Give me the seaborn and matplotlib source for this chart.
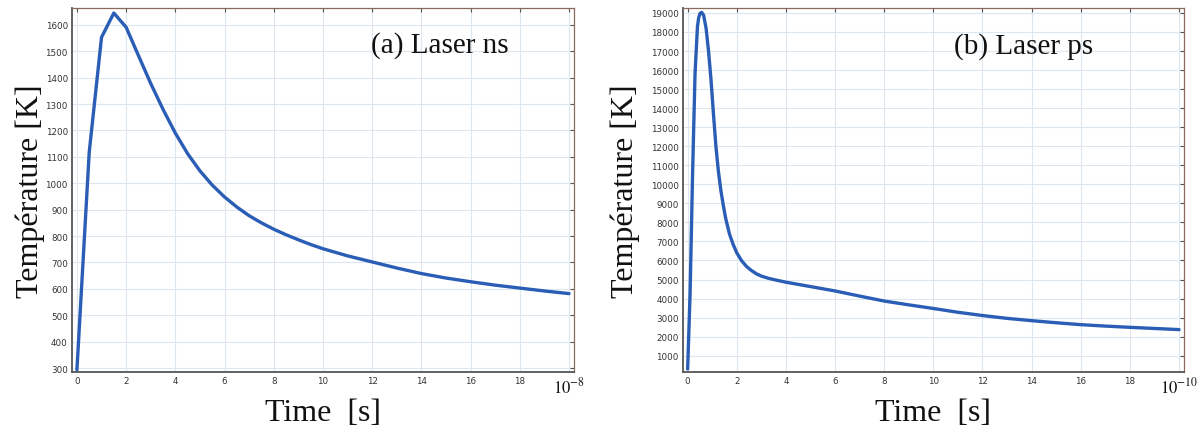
import numpy as np
import pandas as pd
import matplotlib
matplotlib.use("Agg")
from matplotlib import pyplot as plt
import seaborn as sns

# (a) nanosecond laser, time in units of 1e-8 s
time_ns = [0, 0.5, 1, 1.5, 2, 2.5, 3, 3.5, 4, 4.5, 5, 5.5, 6, 6.5, 7, 7.5, 8, 8.5, 9, 9.5, 10,
           11, 12, 13, 14, 15, 16, 17, 18, 19, 20]
temp_ns = [293, 1118, 1553, 1645, 1591, 1484, 1378, 1280, 1190, 1112, 1047, 993, 948, 910, 877, 850, 826, 805, 786, 768, 752,
           725, 702, 679, 658, 641, 627, 614, 603, 592, 582]

# (b) picosecond laser, time in units of 1e-10 s
time_ps = [0, 0.1, 0.2, 0.3, 0.4, 0.45, 0.5, 0.57, 0.65, 0.75, 0.85, 0.95, 1.05, 1.15, 1.25, 1.35, 1.45, 1.55,
           1.7, 1.85, 2.0, 2.2, 2.4, 2.6, 2.8, 3.0, 3.3, 3.6, 4, 5, 6, 7, 8, 9, 10, 11, 12, 13, 14, 15, 16, 17, 18, 19, 20]
temp_ps = [300, 4300, 10500, 15800, 18300, 18750, 18970, 19030, 18880, 18200, 17000, 15500, 13700, 12000, 10700, 9700, 8900, 8200,
           7400, 6850, 6400, 5980, 5680, 5470, 5300, 5180, 5060, 4970, 4860, 4630, 4400, 4130, 3870, 3670, 3480, 3280, 3110,
           2960, 2840, 2730, 2630, 2555, 2490, 2430, 2370]

x_ticks = list(range(0, 21, 2))
x_labels_ns = [str(t) for t in x_ticks[:-1]] + [r"$10^{-8}$"]
x_labels_ps = [str(t) for t in x_ticks[:-1]] + [r"$10^{-10}$"]
y_ticks_ns = list(range(300, 1601, 100))
y_ticks_ps = list(range(1000, 19001, 1000))

sns.set_theme(style="whitegrid")
plt.rcParams["mathtext.fontset"] = "stix"

line_color = "#2a5db5"
serif = "Liberation Serif"

fig = plt.figure(figsize=(12.02, 4.35), dpi=100)
ax1 = fig.add_axes([0.0599, 0.1425, 0.4176, 0.8368])
ax2 = fig.add_axes([0.568, 0.1425, 0.417, 0.8368])


def style_axis(ax, df, xlim, ylim, yticks, xlabels, title, title_xy, ylab_x):
    sns.lineplot(data=df, x="t", y="T", ax=ax, color=line_color, linewidth=2.4)
    ax.set_xlim(*xlim)
    ax.set_ylim(*ylim)
    ax.set_xticks(x_ticks)
    ax.set_xticklabels(xlabels)
    ax.set_yticks(yticks)
    ax.set_yticklabels([str(v) for v in yticks])
    ax.tick_params(axis="both", which="both", direction="in", length=3, width=0.8,
                   labelsize=6.3, labelcolor="#333333", color="#555555",
                   top=True, right=True, pad=3)
    last = ax.get_xticklabels()[-1]
    last.set_fontsize(12)
    last.set_color("#111111")
    ax.grid(True, color="#dde7ef", linewidth=0.8)
    ax.set_facecolor("white")
    for side in ["left", "bottom"]:
        ax.spines[side].set_color("#555555")
        ax.spines[side].set_linewidth(1.3)
    for side in ["top", "right"]:
        ax.spines[side].set_color("#8a6a5c")
        ax.spines[side].set_linewidth(0.9)
    ax.set_xlabel("Time  [s]", fontfamily=serif, fontsize=23, color="#111111", va="center")
    ax.set_ylabel("Température [K]", fontfamily=serif, fontsize=23, color="#111111", va="center")
    ax.xaxis.set_label_coords(0.5, -0.11)
    ax.yaxis.set_label_coords(ylab_x, 0.5)
    ax.text(title_xy[0], title_xy[1], title, transform=ax.transAxes, fontfamily=serif,
            fontsize=21, color="#111111", ha="center", va="center")


df_ns = pd.DataFrame({"t": time_ns, "T": temp_ns})
df_ps = pd.DataFrame({"t": time_ps, "T": temp_ps})

style_axis(ax1, df_ns, (-0.2, 20.2), (285, 1664), y_ticks_ns, x_labels_ns,
           "(a) Laser ns", (0.733, 0.901), -0.084)
style_axis(ax2, df_ps, (-0.2, 20.2), (143, 19260), y_ticks_ps, x_labels_ps,
           "(b) Laser ps", (0.679, 0.896), -0.115)

fig.savefig("out.png", dpi=100, facecolor="white")
